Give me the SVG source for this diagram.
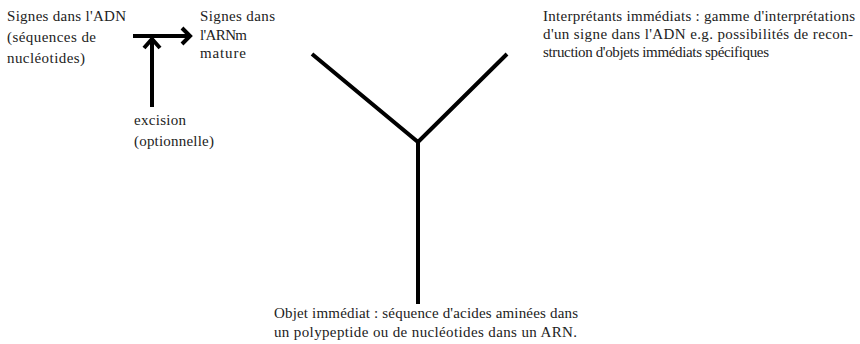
<svg xmlns="http://www.w3.org/2000/svg" width="860" height="344" viewBox="0 0 860 344">
<style>
text{font-family:"Liberation Serif","Times New Roman",serif;font-size:15px;fill:#222}
.ln{stroke:#000;stroke-width:4;fill:none;stroke-linecap:butt}
.ah{stroke:#000;stroke-width:4;fill:none;stroke-linejoin:miter;stroke-linecap:butt}
</style>
<rect width="860" height="344" fill="#fff"/>
<g id="adn"><text x="7" y="21" textLength="119" lengthAdjust="spacing">Signes dans l'ADN</text><text x="7" y="42" textLength="89" lengthAdjust="spacing">(séquences de</text><text x="7" y="63" textLength="78" lengthAdjust="spacing">nucléotides)</text></g>
<g id="arnm"><text x="200" y="21" textLength="75" lengthAdjust="spacing">Signes dans</text><text x="200" y="40" textLength="47" lengthAdjust="spacing">l'ARNm</text><text x="200" y="58" textLength="46" lengthAdjust="spacing">mature</text></g>
<g id="excision"><text x="134" y="125" textLength="52" lengthAdjust="spacing">excision</text><text x="134" y="146" textLength="80" lengthAdjust="spacing">(optionnelle)</text></g>
<g id="interpretants"><text x="543" y="21" textLength="312" lengthAdjust="spacing">Interprétants immédiats : gamme d'interprétations</text><text x="543" y="39" textLength="310" lengthAdjust="spacing">d'un signe dans l'ADN e.g. possibilités de recon-</text><text x="543" y="57" textLength="226" lengthAdjust="spacing">struction d'objets immédiats spécifiques</text></g>
<g id="objet"><text x="274" y="318" textLength="304" lengthAdjust="spacing">Objet immédiat :  séquence d'acides aminées dans</text><text x="274" y="337" textLength="303" lengthAdjust="spacing">un polypeptide ou de nucléotides dans un ARN.</text></g>
<g id="connectors">
<line class="ln" x1="133" y1="36" x2="189" y2="36"/>
<polyline class="ah" points="182,28 190,36 182,44"/>
<line class="ln" x1="152" y1="107" x2="152" y2="40"/>
<polyline class="ah" points="144,48 152,39 160,48"/>
<path class="ln" d="M312,54 L418,142 L507,54 M418,142 L418,304"/>
</g>
</svg>
